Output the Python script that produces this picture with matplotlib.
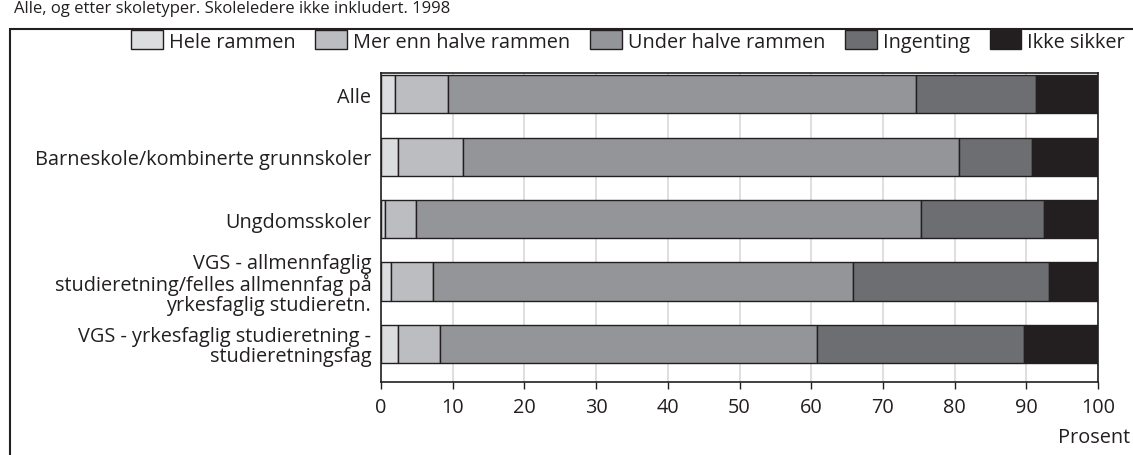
import matplotlib
matplotlib.use("Agg")
import matplotlib.pyplot as plt
from matplotlib.patches import Rectangle
import numpy as np

plt.rcParams['font.family'] = ['Open Sans', 'DejaVu Sans']

categories = [
    "Alle",
    "Barneskole/kombinerte grunnskoler",
    "Ungdomsskoler",
    "VGS - allmennfaglig\nstudieretning/felles allmennfag på\nyrkesfaglig studieretn.",
    "VGS - yrkesfaglig studieretning -\nstudieretningsfag",
]
series_names = ["Hele rammen", "Mer enn halve rammen", "Under halve rammen", "Ingenting", "Ikke sikker"]
hele = [1.9, 2.4, 0.5, 1.4, 2.4]
mer_enn_halve = [7.4, 9.1, 4.4, 5.8, 5.8]
under_halve = [65.3, 69.1, 70.4, 58.6, 52.6]
ingenting = [16.7, 10.2, 17.2, 27.4, 28.9]
ikke_sikker = [8.7, 9.2, 7.5, 6.8, 10.3]
colors = ["#dcdddf", "#bcbdc0", "#939598", "#6d6e71", "#231f20"]
xticks = [0, 10, 20, 30, 40, 50, 60, 70, 80, 90, 100]

FS = 14.3
W, H = 1133, 456
fig = plt.figure(figsize=(W / 100, H / 100), dpi=100)
ax = fig.add_axes([381 / W, 1 - 383 / H, (1098 - 381) / W, (383 - 74) / H])

data = [hele, mer_enn_halve, under_halve, ingenting, ikke_sikker]
y = np.arange(len(categories))
left = np.zeros(len(categories))
for name, vals, c in zip(series_names, data, colors):
    ax.barh(y, vals, left=left, height=0.61, color=c, edgecolor="#231f20",
            linewidth=1.0, label=name, zorder=3)
    left += np.array(vals)

ax.set_xlim(0, 100)
ax.set_ylim(4.61, -0.34)
ax.set_xticks(xticks)
ax.set_xticklabels([str(t) for t in xticks], fontsize=FS, color="#231f20")
ax.set_yticks(y)
ax.set_yticklabels(categories, fontsize=FS, linespacing=0.98, ha="right",
                   multialignment="right", color="#231f20")
ax.tick_params(axis="y", length=0, pad=7)
ax.tick_params(axis="x", length=5, width=1, color="#231f20", pad=6)
ax.grid(axis="x", color="#d9d9d9", linewidth=1.2, zorder=0)
for s in ax.spines.values():
    s.set_color("#231f20")
    s.set_linewidth(1.2)

fig.text(1130 / W, 1 - 438 / H, "Prosent", ha="right", va="center", fontsize=FS, color="#231f20")

leg = fig.legend(loc="center", bbox_to_anchor=(628 / W, 1 - 42 / H), ncol=5, frameon=False,
                 fontsize=FS, handlelength=1.6, handleheight=1.1, handletextpad=0.3,
                 columnspacing=1.0, borderaxespad=0)
for t in leg.get_texts():
    t.set_color("#231f20")

fig.text(14 / W, 1 - 1 / H, "Alle, og etter skoletyper. Skoleledere ikke inkludert. 1998",
         ha="left", va="top", fontsize=12, color="#231f20")

frame = Rectangle((10 / W, -0.05), 1.2, 1 - 30 / H + 0.05, transform=fig.transFigure,
                  fill=False, edgecolor="#231f20", linewidth=1.5)
fig.patches.append(frame)

fig.savefig("out.png", dpi=100)
